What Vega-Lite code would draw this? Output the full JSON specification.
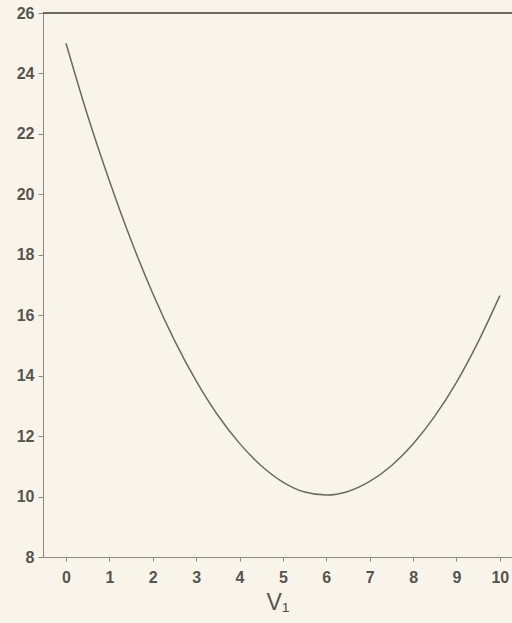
{
  "$schema": "https://vega.github.io/schema/vega-lite/v6.json",
  "width": 469,
  "height": 544,
  "autosize": {"type": "none"},
  "padding": {"left": 43, "top": 13, "right": 0, "bottom": 66},
  "background": "#f9f4e9",
  "config": {
    "view": {"stroke": null},
    "axis": {
      "labelFont": "Liberation Sans",
      "labelFontWeight": "bold",
      "labelColor": "#555550",
      "labelFontSize": 16,
      "domainColor": "#8a8a80",
      "tickColor": "#8a8a80",
      "grid": false,
      "titleFont": "Liberation Sans",
      "titleColor": "#555550"
    }
  },
  "data": {
    "values": [
      {"v1": 0, "y": 25.0},
      {"v1": 0.5, "y": 22.6},
      {"v1": 1, "y": 20.45},
      {"v1": 1.5, "y": 18.48},
      {"v1": 2, "y": 16.72},
      {"v1": 2.5, "y": 15.17},
      {"v1": 3, "y": 13.83},
      {"v1": 3.5, "y": 12.69},
      {"v1": 4, "y": 11.76},
      {"v1": 4.5, "y": 11.02},
      {"v1": 5, "y": 10.48},
      {"v1": 5.5, "y": 10.15},
      {"v1": 6, "y": 10.05},
      {"v1": 6.5, "y": 10.17},
      {"v1": 7, "y": 10.5},
      {"v1": 7.5, "y": 11.02},
      {"v1": 8, "y": 11.74},
      {"v1": 8.5, "y": 12.66},
      {"v1": 9, "y": 13.78},
      {"v1": 9.5, "y": 15.12},
      {"v1": 10, "y": 16.65}
    ]
  },
  "layer": [
    {
      "mark": {"type": "line", "interpolate": "monotone", "color": "#6a6a60", "strokeWidth": 1.5},
      "encoding": {
        "x": {
          "field": "v1", "type": "quantitative",
          "scale": {"domain": [-0.53, 10.28], "nice": false, "zero": false},
          "axis": {"values": [0,1,2,3,4,5,6,7,8,9,10], "title": "V₁", "titleFontSize": 23, "titleFontWeight": "normal", "titlePadding": 6, "tickSize": 4, "labelPadding": 8, "offset": 0}
        },
        "y": {
          "field": "y", "type": "quantitative",
          "scale": {"domain": [8, 26], "nice": false, "zero": false},
          "axis": {"values": [8,10,12,14,16,18,20,22,24,26], "title": null, "tickSize": 5, "labelPadding": 4}
        }
      }
    },
    {
      "mark": {"type": "rule", "color": "#6a6a60", "strokeWidth": 1.5},
      "encoding": {"y": {"datum": 26}}
    }
  ]
}
